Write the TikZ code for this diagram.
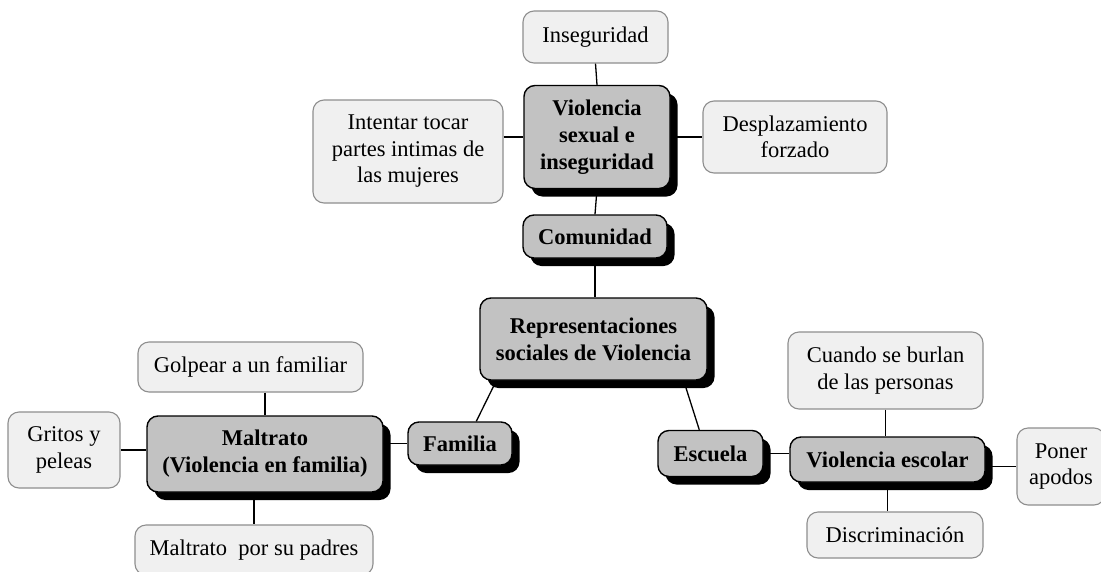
\documentclass[tikz,border=0pt]{standalone}
\usepackage{fontspec}
\setmainfont{Liberation Serif}
\usetikzlibrary{shadows}
\definecolor{lightfill}{HTML}{F0F0F0}
\definecolor{lightedge}{HTML}{8E8E8E}
\definecolor{darkfill}{HTML}{C2C2C2}
\begin{document}
\begin{tikzpicture}[x=1pt,y=-1pt,
  every node/.style={inner sep=0pt, align=center, font=\fontsize{22.5}{26.5}\selectfont},
  leaf/.style={draw=lightedge, line width=1.1pt, fill=lightfill, rounded corners=11pt},
  hub/.style={draw=black, line width=1.4pt, fill=darkfill, rounded corners=11pt,
    font=\fontsize{22.5}{27}\selectfont\bfseries,
    drop shadow={shadow xshift=7.5pt, shadow yshift=-8pt, fill=black, opacity=1}},
  link/.style={draw=black, line width=1.3pt}
]
\useasboundingbox[fill=white] (0,0) rectangle (1101,571);

% hubs
\node[hub, minimum width=146pt, minimum height=103pt] (vsi) at (597,137) {Violencia\\sexual e\\inseguridad};
\node[hub, minimum width=144pt, minimum height=43pt] (com) at (595,236.5) {Comunidad};
\node[hub, minimum width=227pt, minimum height=82pt] (rep) at (593.5,339) {Representaciones\\sociales de Violencia};
\node[hub, minimum width=236pt, minimum height=76pt] (mal) at (265,454) {Maltrato\\(Violencia en familia)};
\node[hub, minimum width=104pt, minimum height=43pt] (fam) at (460,443.5) {Familia};
\node[hub, minimum width=105pt, minimum height=46pt] (esc) at (710.5,453.5) {Escuela};
\node[hub, minimum width=195pt, minimum height=45pt] (ves) at (887.5,459.5) {Violencia escolar};

% leaves
\node[leaf, minimum width=145pt, minimum height=52pt] (ins) at (595.5,37) {Inseguridad};
\node[leaf, minimum width=190pt, minimum height=103pt] (int) at (408,151.5) {Intentar tocar\\partes intimas de\\las mujeres};
\node[leaf, minimum width=184pt, minimum height=72pt] (des) at (795,137) {Desplazamiento\\forzado};
\node[leaf, minimum width=225pt, minimum height=50pt] (gol) at (250.5,367) {Golpear a un familiar};
\node[leaf, minimum width=112pt, minimum height=76pt] (gri) at (64,450) {Gritos y\\peleas};
\node[leaf, minimum width=238pt, minimum height=50pt] (mpp) at (254,550) {Maltrato\ \ por su padres};
\node[leaf, minimum width=195pt, minimum height=77pt] (cua) at (885.5,370.5) {Cuando se burlan\\de las personas};
\node[leaf, minimum width=88pt, minimum height=77pt] (pon) at (1061,466.5) {Poner\\apodos};
\node[leaf, minimum width=176pt, minimum height=46pt] (dis) at (895,535) {Discriminación};

% connectors
\draw[link] (ins.south) -- (vsi.north);
\draw[link] (int.east |- vsi.west) -- (vsi.west);
\draw[link] (vsi.east |- des.west) -- (des.west);
\draw[link] (vsi.south) -- (com.north);
\draw[link] (com.south) -- (com.south |- rep.north);
\draw[link] ([xshift=17pt]rep.south west) -- ([xshift=69pt]fam.north west);
\draw[link] ([xshift=-24pt]rep.south east) -- ([xshift=42pt]esc.north west);
\draw[link] (mal.east |- fam.west) -- (fam.west);
\draw[link] (gri.east) -- (gri.east -| mal.west);
\draw[link] (gol.south -| mal.north) -- (mal.north);
\draw[link] (mal.south -| mpp.north) -- (mpp.north);
\draw[link] (esc.east) -- (esc.east -| ves.west);
\draw[link] (cua.south) -- (cua.south |- ves.north);
\draw[link] (ves.east |- pon.west) -- (pon.west);
\draw[link] (ves.south) -- (ves.south |- dis.north);
\end{tikzpicture}
\end{document}
